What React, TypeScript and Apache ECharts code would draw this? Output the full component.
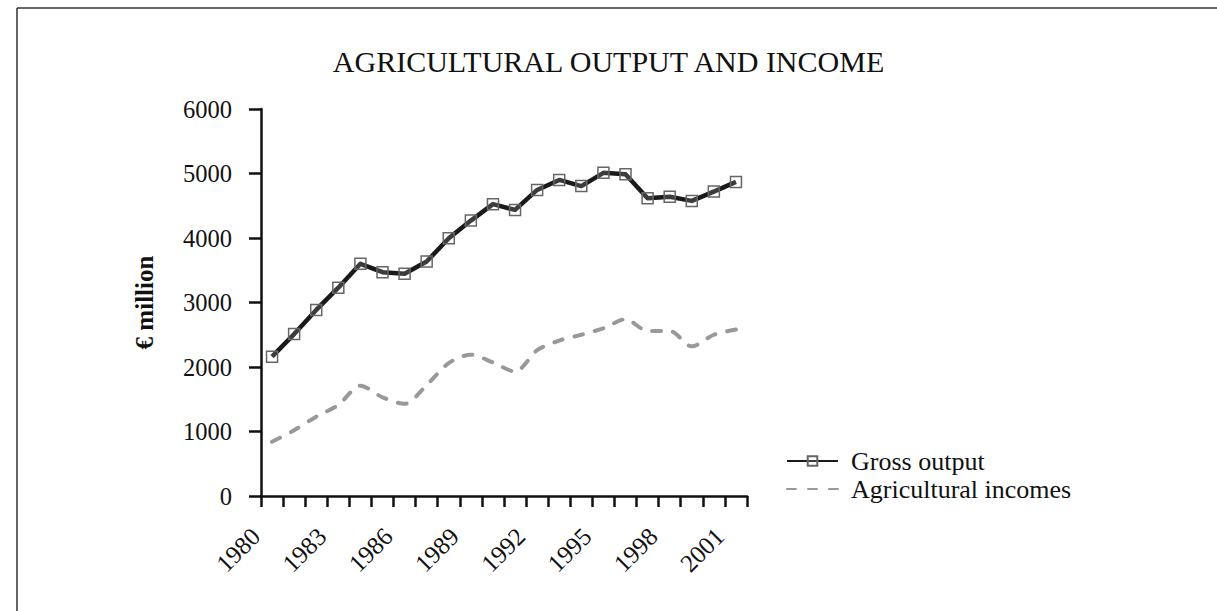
import React, { useEffect, useRef } from "react";
import * as echarts from "echarts";

const years = [
  "1980", "1981", "1982", "1983", "1984", "1985", "1986", "1987", "1988", "1989", "1990",
  "1991", "1992", "1993", "1994", "1995", "1996", "1997", "1998", "1999", "2000", "2001",
];
const grossOutput = [
  2160, 2510, 2885, 3230, 3600, 3470, 3445, 3635, 3995, 4270, 4525,
  4435, 4745, 4900, 4805, 5010, 4990, 4615, 4640, 4575, 4720, 4870,
];
const agriculturalIncomes = [
  840, 1020, 1230, 1410, 1710, 1530, 1430, 1720, 2060, 2190, 2070,
  1930, 2260, 2410, 2500, 2600, 2740, 2560, 2560, 2320, 2500, 2580,
];
const yTicks = { min: 0, max: 6000, interval: 1000 };

const FONT = "'Liberation Serif', 'Times New Roman', serif";

export default function App() {
  const ref = useRef<HTMLDivElement>(null);
  useEffect(() => {
    if (!ref.current) return;
    const chart = echarts.init(ref.current, undefined, { renderer: "svg" });
    chart.setOption({
      animation: false,
      backgroundColor: "#fff",
      textStyle: { fontFamily: FONT, color: "#111" },
      title: {
        text: "AGRICULTURAL OUTPUT AND INCOME",
        left: "center",
        top: 41,
        textStyle: { fontFamily: FONT, fontSize: 30, fontWeight: "normal", color: "#111" },
      },
      graphic: [
        { type: "line", shape: { x1: 17, y1: 8, x2: 1217, y2: 8 }, style: { stroke: "#333", lineWidth: 1.5 } },
        { type: "line", shape: { x1: 17, y1: 8, x2: 17, y2: 611 }, style: { stroke: "#333", lineWidth: 1.5 } },
      ],
      legend: {
        orient: "vertical",
        left: 781,
        top: 443,
        itemWidth: 51,
        itemHeight: 12,
        itemGap: 2,
        textStyle: { fontFamily: FONT, fontSize: 26, color: "#111", padding: [0, 0, 0, 8] },
        data: [
          { name: "Gross output" },
          { name: "Agricultural incomes", itemStyle: { opacity: 0 } },
        ],
      },
      grid: { left: 261, right: 470, top: 109, bottom: 115, containLabel: false },
      xAxis: {
        type: "category",
        data: years,
        boundaryGap: true,
        axisLine: { lineStyle: { color: "#111", width: 2.5 } },
        axisTick: { show: true, interval: 0, length: 11, lineStyle: { color: "#111", width: 2.5 } },
        axisLabel: {
          interval: 2,
          rotate: 45,
          margin: 20,
          padding: [0, 23, 0, 0],
          fontFamily: FONT,
          fontSize: 25,
          color: "#111",
        },
        splitLine: { show: false },
      },
      yAxis: {
        type: "value",
        min: yTicks.min,
        max: yTicks.max,
        interval: yTicks.interval,
        name: "€ million",
        nameLocation: "middle",
        nameGap: 104,
        nameTextStyle: { fontFamily: FONT, fontSize: 25, fontWeight: "bold", color: "#111" },
        axisLine: { show: true, lineStyle: { color: "#111", width: 2.5 } },
        axisTick: { show: true, length: 12, lineStyle: { color: "#111", width: 2.5 } },
        axisLabel: {
          margin: 29,
          fontFamily: FONT,
          fontSize: 24.5,
          color: "#111",
          formatter: (v: number) => String(v),
        },
        splitLine: { show: false },
      },
      series: [
        {
          name: "Gross output",
          type: "line",
          data: grossOutput,
          symbol: "rect",
          symbolSize: 11,
          showAllSymbol: true,
          lineStyle: { color: "#1a1a1a", width: 4.5, join: "round" },
          itemStyle: { color: "rgba(255,255,255,0.15)", borderColor: "#666", borderWidth: 1.5 },
          z: 3,
        },
        {
          name: "Agricultural incomes",
          type: "line",
          data: agriculturalIncomes,
          symbol: "none",
          smooth: 0.3,
          lineStyle: { color: "#999", width: 4, type: [9, 12], cap: "round" },
          itemStyle: { color: "#999" },
          z: 2,
        },
      ],
    });
    return () => chart.dispose();
  }, []);
  return (
    <div
      ref={ref}
      style={{ position: "fixed", left: 0, top: 0, width: 1217, height: 611, background: "#fff" }}
    />
  );
}
